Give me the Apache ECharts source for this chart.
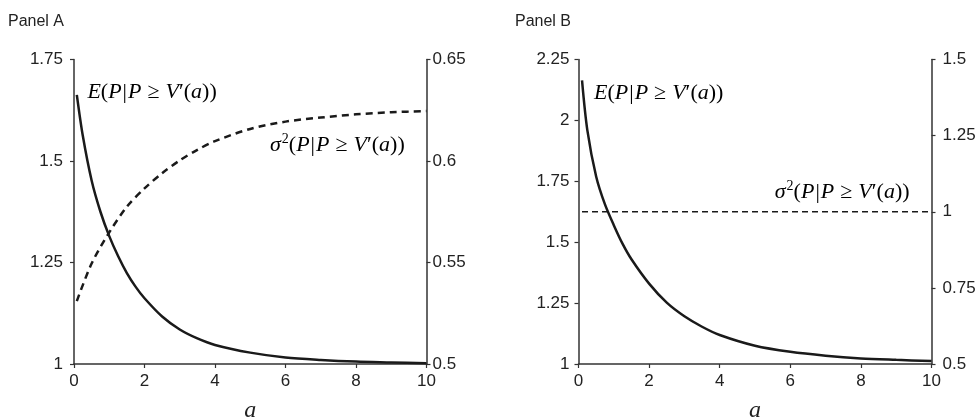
<!DOCTYPE html>
<html>
<head>
<meta charset="utf-8">
<script src="https://cdn.jsdelivr.net/npm/echarts@6/dist/echarts.min.js"></script>
<style>
html,body{margin:0;padding:0;background:#fff;}
#chart{width:978px;height:418px;}
</style>
</head>
<body>
<div id="chart"></div>
<script>
// ---- Data ----
const panelTitles = ['Panel A', 'Panel B'];
const xTicks = [0, 2, 4, 6, 8, 10];

// Panel A: expected value (left axis)
const aA_E = [0.08, 0.25, 0.5, 0.75, 1, 1.25, 1.5, 1.75, 2, 2.5, 3, 3.5, 4, 5, 6, 7, 8, 9, 10];
const eA   = [1.663, 1.562, 1.452, 1.375, 1.315, 1.266, 1.224, 1.19, 1.162, 1.117, 1.085, 1.063, 1.047, 1.028, 1.016, 1.010, 1.006, 1.004, 1.002];
// Panel A: variance (right axis)
const aA_V = [0.08, 0.5, 1, 1.5, 2, 2.5, 3, 3.5, 4, 5, 6, 7, 8, 9, 10];
const vA   = [0.5310, 0.5495, 0.5648, 0.5775, 0.5865, 0.594, 0.6003, 0.6055, 0.6098, 0.6158, 0.6194, 0.6214, 0.623, 0.624, 0.6246];

// Panel B: expected value (left axis)
const aB_E = [0.1, 0.25, 0.5, 0.75, 1, 1.25, 1.5, 2, 2.5, 3, 3.5, 4, 5, 6, 7, 8, 9, 10];
const eB   = [2.164, 1.96, 1.77, 1.655, 1.57, 1.493, 1.43, 1.33, 1.252, 1.196, 1.153, 1.119, 1.075, 1.05, 1.034, 1.023, 1.017, 1.012];
// Panel B: variance (right axis)
const aB_V = [0.1, 10];
const vB   = [1, 1];

const zip = (xs, ys) => xs.map((x, i) => [x, ys[i]]);

const INK = '#1a1a1a';
const AXIS = '#333';
const SANS = 'Liberation Sans, Arial, sans-serif';
const SERIF = 'Liberation Serif, Times New Roman, serif';

function xAx(gi) {
  return {
    type: 'value', gridIndex: gi, min: 0, max: 10, interval: 2,
    axisLine: { show: true, onZero: false, lineStyle: { color: AXIS, width: 1.5 } },
    axisTick: { show: true, length: 4, lineStyle: { color: AXIS, width: 1.2 } },
    axisLabel: { margin: 9, fontSize: 17, fontFamily: SANS, color: '#222' },
    splitLine: { show: false },
    name: 'a', nameLocation: 'middle', nameGap: 35,
    nameTextStyle: { fontFamily: SERIF, fontStyle: 'italic', fontSize: 24, color: '#222' }
  };
}
function yAx(gi, pos, min, max, interval, margin) {
  return {
    type: 'value', gridIndex: gi, position: pos, min: min, max: max, interval: interval,
    axisLine: { show: true, onZero: false, lineStyle: { color: AXIS, width: 1.5 } },
    axisTick: { show: true, length: 4, lineStyle: { color: AXIS, width: 1.2 } },
    axisLabel: { margin: margin, fontSize: 17, fontFamily: SANS, color: '#222' },
    splitLine: { show: false }
  };
}

const chart = echarts.init(document.getElementById('chart'), null, { renderer: 'canvas' });

const option = {
  animation: false,
  backgroundColor: '#fff',
  title: [
    { text: panelTitles[0], left: 8, top: 14, padding: 0, textStyle: { fontSize: 16, fontWeight: 'normal', fontFamily: SANS, color: '#222' } },
    { text: panelTitles[1], left: 515, top: 14, padding: 0, textStyle: { fontSize: 16, fontWeight: 'normal', fontFamily: SANS, color: '#222' } }
  ],
  grid: [
    { left: 74, top: 59.5, width: 352.5, height: 304.5, outerBoundsMode: 'none' },
    { left: 578.5, top: 59.5, width: 353, height: 304.5, outerBoundsMode: 'none' }
  ],
  xAxis: [xAx(0), xAx(1)],
  yAxis: [
    yAx(0, 'left', 1, 1.75, 0.25, 11),
    yAx(0, 'right', 0.5, 0.65, 0.05, 6),
    yAx(1, 'left', 1, 2.25, 0.25, 9),
    yAx(1, 'right', 0.5, 1.5, 0.25, 11)
  ],
  series: [
    { type: 'line', xAxisIndex: 0, yAxisIndex: 0, data: zip(aA_E, eA), smooth: 0.3,
      showSymbol: false, lineStyle: { color: INK, width: 2.5 } },
    { type: 'line', xAxisIndex: 0, yAxisIndex: 1, data: zip(aA_V, vA), smooth: 0.3,
      showSymbol: false, lineStyle: { color: INK, width: 2.5, type: [7, 5] } },
    { type: 'line', xAxisIndex: 1, yAxisIndex: 2, data: zip(aB_E, eB), smooth: 0.3,
      showSymbol: false, lineStyle: { color: INK, width: 2.5 } },
    { type: 'line', xAxisIndex: 1, yAxisIndex: 3, data: zip(aB_V, vB),
      showSymbol: false, lineStyle: { color: INK, width: 1.3, type: [6, 4] } }
  ]
};
chart.setOption(option);

// ---- math labels ----
const FS = 22;
const rich = {
  i: { fontFamily: SERIF, fontStyle: 'italic', fontSize: FS, color: '#222' },
  r: { fontFamily: SERIF, fontSize: FS, color: '#222' },
  b: { fontFamily: SERIF, fontSize: FS, color: '#222', padding: [0, 1, 0, 1] },
  s: { fontFamily: SERIF, fontSize: FS, color: '#222', padding: [0, 6, 0, 6] },
  sup: { fontFamily: SERIF, fontSize: 14, color: '#222', padding: [0, 0, 12, 1] }
};
const eText = '{i|E}{r|(}{i|P}{b||}{i|P}{s|≥}{i|V}{r|′(}{i|a}{r|))}';
const vText = '{i|σ}{sup|2}{r|(}{i|P}{b||}{i|P}{s|≥}{i|V}{r|′(}{i|a}{r|))}';

function place(finder, pt, text) {
  const p = chart.convertToPixel(finder, pt);
  return { type: 'text', x: p[0], y: p[1], style: { text: text, rich: rich, verticalAlign: 'middle', align: 'left' } };
}
chart.setOption({
  graphic: [
    place({ xAxisIndex: 0, yAxisIndex: 0 }, [0.38, 1.67], eText),
    place({ xAxisIndex: 0, yAxisIndex: 1 }, [5.56, 0.6079], vText),
    place({ xAxisIndex: 1, yAxisIndex: 2 }, [0.44, 2.11], eText),
    place({ xAxisIndex: 1, yAxisIndex: 3 }, [5.56, 1.065], vText)
  ]
});
</script>
</body>
</html>
